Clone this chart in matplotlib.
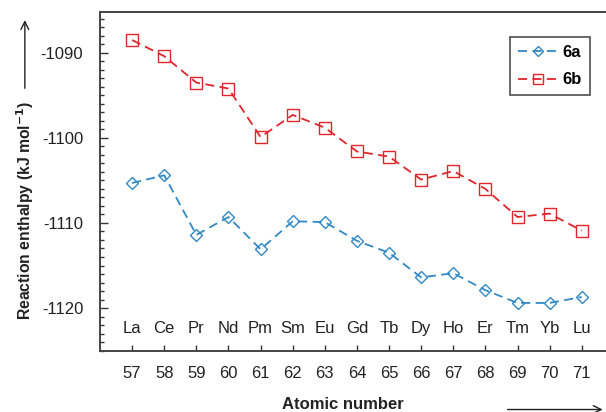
import matplotlib.pyplot as plt
from matplotlib.patches import FancyArrowPatch
from matplotlib.ticker import MultipleLocator

plt.rcParams['font.family'] = ['Liberation Sans', 'DejaVu Sans']
plt.rcParams['axes.unicode_minus'] = False

# datos
numeros = list(range(57, 72))
elementos = ['La', 'Ce', 'Pr', 'Nd', 'Pm', 'Sm', 'Eu', 'Gd', 'Tb', 'Dy', 'Ho', 'Er', 'Tm', 'Yb', 'Lu']
serie_6a = [-1105.3, -1104.4, -1111.4, -1109.3, -1113.1, -1109.8, -1109.9, -1112.1,
            -1113.5, -1116.4, -1115.9, -1117.9, -1119.4, -1119.4, -1118.7]
serie_6b = [-1088.5, -1090.4, -1093.5, -1094.2, -1099.9, -1097.3, -1098.8, -1101.6,
            -1102.2, -1104.9, -1103.9, -1106.0, -1109.3, -1108.9, -1110.9]

azul = '#3189c6'
rojo = '#e0252b'

fig = plt.figure(figsize=(6.06, 4.12), dpi=100)
ax = fig.add_axes([0.165, 0.148, 0.848, 0.823])

ax.plot(numeros, serie_6a, '--', color=azul, marker='D', markersize=6.5,
        markerfacecolor='none', markeredgecolor=azul, linewidth=1.3,
        dashes=(5, 3), label='6a')
ax.plot(numeros, serie_6b, '--', color=rojo, marker='s', markersize=9,
        markerfacecolor='none', markeredgecolor=rojo, linewidth=1.3,
        dashes=(5, 3), label='6b')

for n, el in zip(numeros, elementos):
    ax.text(n, -1122.4, el, ha='center', va='center', fontsize=12, color='#222222')

ax.set_xlim(56, 72)
ax.set_ylim(-1125.05, -1085.2)
ax.set_xticks(numeros)
ax.yaxis.set_major_locator(MultipleLocator(10))
ax.yaxis.set_minor_locator(MultipleLocator(1))
ax.tick_params(axis='both', which='both', direction='in', color='#333333',
               labelsize=12, labelcolor='#222222')
ax.tick_params(axis='y', which='major', length=6, width=1, pad=12)
ax.tick_params(axis='y', which='minor', length=3, width=1)
ax.tick_params(axis='x', which='major', length=4, width=1, pad=11)
ax.tick_params(right=False, top=False)
for lado in ['left', 'bottom', 'top']:
    ax.spines[lado].set_color('#444444')
    ax.spines[lado].set_linewidth(1.4)
ax.spines['right'].set_visible(False)

leg = ax.legend(loc='upper right', bbox_to_anchor=(0.953, 0.925), frameon=True,
                fancybox=False, edgecolor='#222222', prop={'weight': 'bold', 'size': 12},
                handlelength=2.4, handletextpad=0.3, borderpad=0.45, labelspacing=0.75,
                borderaxespad=0, markerscale=0.75)
leg.get_frame().set_linewidth(1.2)

fig.text(0.041, 0.49, 'Reaction enthalpy (kJ mol$^{\\mathbf{-1}}$)', rotation=90,
         ha='center', va='center', fontsize=11.3, fontweight='bold', color='#222222')
fig.text(0.566, 0.017, 'Atomic number', ha='center', va='center',
         fontsize=12, fontweight='bold', color='#222222')

fig.patches.append(FancyArrowPatch(
    (0.041, 0.779), (0.041, 0.958), transform=fig.transFigure,
    arrowstyle='->', mutation_scale=14, color='#222222', linewidth=1))
fig.patches.append(FancyArrowPatch(
    (0.833, 0.006), (0.999, 0.006), transform=fig.transFigure,
    arrowstyle='->', mutation_scale=14, color='#222222', linewidth=1))

fig.savefig('out.png', dpi=100)
